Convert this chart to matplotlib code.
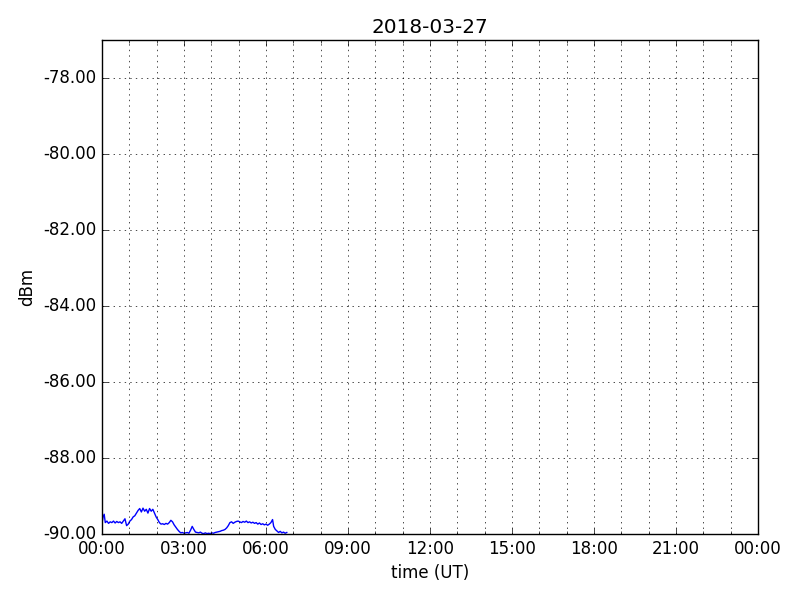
import matplotlib
matplotlib.use("Agg")
import matplotlib.pyplot as plt
import matplotlib.dates as mdates
from matplotlib.ticker import FormatStrFormatter
import datetime as dt

plt.style.use('classic')

title = "2018-03-27"
hours = [0.00, 0.04, 0.08, 0.12, 0.18, 0.24, 0.30, 0.36, 0.42, 0.48, 0.54, 0.60, 0.66, 0.72, 0.78,
         0.84, 0.90, 0.96, 1.02, 1.08, 1.14, 1.20, 1.26, 1.32, 1.38, 1.44, 1.50, 1.56, 1.62, 1.68,
         1.74, 1.80, 1.86, 1.92, 1.98, 2.04, 2.10, 2.16, 2.22, 2.28, 2.34, 2.40, 2.46, 2.52, 2.58,
         2.64, 2.70, 2.76, 2.82, 2.88, 2.94, 3.00, 3.06, 3.12, 3.18, 3.24, 3.30, 3.36, 3.42, 3.48,
         3.54, 3.60, 3.66, 3.72, 3.78, 3.84, 3.90, 3.96, 4.02, 4.08, 4.14, 4.20, 4.26, 4.32, 4.38,
         4.44, 4.50, 4.56, 4.62, 4.68, 4.74, 4.80, 4.86, 4.92, 4.98, 5.04, 5.10, 5.16, 5.22, 5.28,
         5.34, 5.40, 5.46, 5.52, 5.58, 5.64, 5.70, 5.76, 5.82, 5.88, 5.94, 6.00, 6.06, 6.12, 6.18,
         6.24, 6.28, 6.34, 6.40, 6.46, 6.52, 6.58, 6.64, 6.70, 6.76]
dbm = [-89.72, -89.55, -89.48, -89.70, -89.66, -89.72, -89.68, -89.70, -89.66, -89.71, -89.67, -89.70, -89.68, -89.72, -89.66,
       -89.60, -89.78, -89.74, -89.66, -89.62, -89.55, -89.52, -89.45, -89.38, -89.33, -89.42, -89.32, -89.40, -89.35, -89.45,
       -89.33, -89.40, -89.35, -89.45, -89.55, -89.62, -89.70, -89.74, -89.73, -89.75, -89.72, -89.74, -89.70, -89.64, -89.68,
       -89.76, -89.82, -89.88, -89.93, -89.97, -89.96, -89.98, -89.97, -89.96, -89.98, -89.90, -89.80, -89.88, -89.95, -89.96,
       -89.97, -89.95, -89.98, -89.99, -89.97, -89.99, -89.98, -89.99, -89.97, -89.98, -89.96, -89.95, -89.94, -89.93, -89.91,
       -89.90, -89.88, -89.84, -89.78, -89.70, -89.68, -89.72, -89.69, -89.67, -89.66, -89.68, -89.70, -89.67, -89.69, -89.66,
       -89.70, -89.68, -89.71, -89.69, -89.72, -89.70, -89.74, -89.71, -89.75, -89.73, -89.76, -89.74, -89.77, -89.74, -89.70,
       -89.62, -89.80, -89.88, -89.92, -89.96, -89.93, -89.97, -89.95, -89.98, -89.96]

start = dt.datetime(2018, 3, 27)
times = [start + dt.timedelta(hours=h) for h in hours]

fig = plt.figure(figsize=(8, 6), dpi=100, facecolor='white')
ax = fig.add_axes([0.1275, 0.11, 0.82, 0.8233])
ax.plot(times, dbm, color='b', linewidth=1)
ax.set_xlim(start, start + dt.timedelta(days=1))
ax.set_ylim(-90, -77)
ax.set_yticks([-90, -88, -86, -84, -82, -80, -78])
ax.yaxis.set_major_formatter(FormatStrFormatter('%.2f'))
ax.xaxis.set_major_locator(mdates.HourLocator(byhour=range(0, 24, 3)))
ax.xaxis.set_minor_locator(mdates.HourLocator())
ax.xaxis.set_major_formatter(mdates.DateFormatter('%H:%M'))
ax.grid(True, which='both', color='k', linestyle=':')
ax.set_xlabel('time (UT)')
ax.set_ylabel('dBm')
ax.set_title(title)
fig.savefig('out.png', dpi=100, facecolor='white')
